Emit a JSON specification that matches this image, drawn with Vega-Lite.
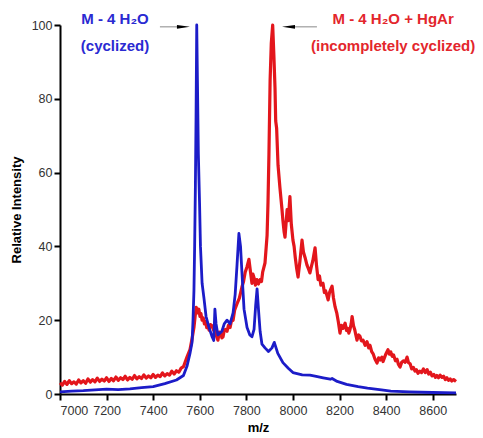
{
  "$schema": "https://vega.github.io/schema/vega-lite/v6.json",
  "width": 396,
  "height": 369,
  "autosize": {"type": "none"},
  "padding": {"left": 60, "top": 25, "right": 27, "bottom": 44},
  "background": "white",
  "config": {
    "view": {"stroke": null},
    "font": "Liberation Sans",
    "axis": {
      "domainColor": "black", "domainWidth": 2, "tickColor": "black", "tickWidth": 2, "tickSize": 6,
      "labelFontSize": 12.5, "labelColor": "#333333", "labelFont": "Liberation Sans",
      "titleFontSize": 13, "titleFontWeight": "bold", "titleColor": "black", "titleFont": "Liberation Sans",
      "grid": false
    }
  },
  "datasets": {
    "blue": [
      {"mz": 7000, "v": 0.6}, {"mz": 7050, "v": 0.8}, {"mz": 7100, "v": 0.9}, {"mz": 7150, "v": 1.1},
      {"mz": 7200, "v": 1.3}, {"mz": 7250, "v": 1.2}, {"mz": 7300, "v": 1.4}, {"mz": 7350, "v": 1.7},
      {"mz": 7400, "v": 2.0}, {"mz": 7450, "v": 2.8}, {"mz": 7500, "v": 3.8}, {"mz": 7530, "v": 5},
      {"mz": 7545, "v": 7.5}, {"mz": 7558, "v": 11}, {"mz": 7567, "v": 14}, {"mz": 7571, "v": 20},
      {"mz": 7575, "v": 28}, {"mz": 7578, "v": 40}, {"mz": 7581, "v": 55}, {"mz": 7584, "v": 75},
      {"mz": 7587, "v": 100}, {"mz": 7590, "v": 85}, {"mz": 7594, "v": 65}, {"mz": 7599, "v": 52},
      {"mz": 7603, "v": 40}, {"mz": 7610, "v": 30}, {"mz": 7618, "v": 26}, {"mz": 7627, "v": 21},
      {"mz": 7640, "v": 18}, {"mz": 7653, "v": 15.5}, {"mz": 7660, "v": 14.5}, {"mz": 7665, "v": 23},
      {"mz": 7670, "v": 19}, {"mz": 7678, "v": 16}, {"mz": 7695, "v": 17}, {"mz": 7705, "v": 19},
      {"mz": 7717, "v": 20}, {"mz": 7730, "v": 19}, {"mz": 7743, "v": 22}, {"mz": 7752, "v": 27},
      {"mz": 7760, "v": 35}, {"mz": 7768, "v": 43.5}, {"mz": 7775, "v": 40}, {"mz": 7781, "v": 33},
      {"mz": 7790, "v": 23}, {"mz": 7803, "v": 18}, {"mz": 7815, "v": 16}, {"mz": 7824, "v": 15.5},
      {"mz": 7833, "v": 17.5}, {"mz": 7840, "v": 24}, {"mz": 7846, "v": 28.5}, {"mz": 7852, "v": 23},
      {"mz": 7859, "v": 17}, {"mz": 7867, "v": 13.5}, {"mz": 7880, "v": 12.5}, {"mz": 7895, "v": 11.5},
      {"mz": 7910, "v": 12.5}, {"mz": 7920, "v": 14}, {"mz": 7935, "v": 11}, {"mz": 7957, "v": 8.5},
      {"mz": 7980, "v": 7}, {"mz": 8000, "v": 5.8}, {"mz": 8040, "v": 5.2}, {"mz": 8073, "v": 5.1},
      {"mz": 8100, "v": 4.8}, {"mz": 8130, "v": 4.4}, {"mz": 8160, "v": 4}, {"mz": 8168, "v": 4.2},
      {"mz": 8190, "v": 3.4}, {"mz": 8230, "v": 2.6}, {"mz": 8280, "v": 2}, {"mz": 8320, "v": 1.6},
      {"mz": 8380, "v": 1.1}, {"mz": 8420, "v": 0.8}, {"mz": 8500, "v": 0.6}, {"mz": 8600, "v": 0.4},
      {"mz": 8700, "v": 0.3}
    ],
    "red": [
      {"mz": 7000, "v": 3.0}, {"mz": 7010, "v": 2.4}, {"mz": 7020, "v": 3.4}, {"mz": 7030, "v": 2.6},
      {"mz": 7040, "v": 3.6}, {"mz": 7050, "v": 2.8}, {"mz": 7060, "v": 3.3}, {"mz": 7070, "v": 2.7},
      {"mz": 7080, "v": 3.8}, {"mz": 7090, "v": 3.0}, {"mz": 7100, "v": 3.6}, {"mz": 7110, "v": 2.9},
      {"mz": 7120, "v": 4.1}, {"mz": 7130, "v": 3.2}, {"mz": 7140, "v": 3.9}, {"mz": 7150, "v": 3.3},
      {"mz": 7160, "v": 4.3}, {"mz": 7170, "v": 3.4}, {"mz": 7180, "v": 4.0}, {"mz": 7190, "v": 3.5},
      {"mz": 7200, "v": 4.4}, {"mz": 7210, "v": 3.4}, {"mz": 7220, "v": 4.2}, {"mz": 7230, "v": 3.6},
      {"mz": 7240, "v": 4.6}, {"mz": 7250, "v": 3.7}, {"mz": 7260, "v": 4.4}, {"mz": 7270, "v": 3.9},
      {"mz": 7280, "v": 4.8}, {"mz": 7290, "v": 3.8}, {"mz": 7300, "v": 4.5}, {"mz": 7310, "v": 4.0},
      {"mz": 7320, "v": 5.0}, {"mz": 7330, "v": 4.1}, {"mz": 7340, "v": 4.7}, {"mz": 7350, "v": 4.2},
      {"mz": 7360, "v": 5.2}, {"mz": 7370, "v": 4.3}, {"mz": 7380, "v": 4.9}, {"mz": 7390, "v": 4.4},
      {"mz": 7400, "v": 5.3}, {"mz": 7410, "v": 4.5}, {"mz": 7420, "v": 5.1}, {"mz": 7430, "v": 4.7},
      {"mz": 7440, "v": 5.7}, {"mz": 7450, "v": 4.9}, {"mz": 7460, "v": 5.5}, {"mz": 7470, "v": 5.1},
      {"mz": 7480, "v": 6.2}, {"mz": 7490, "v": 5.4}, {"mz": 7500, "v": 6.3}, {"mz": 7510, "v": 5.9},
      {"mz": 7520, "v": 7.0}, {"mz": 7530, "v": 7.4},
      {"mz": 7545, "v": 10}, {"mz": 7558, "v": 12}, {"mz": 7567, "v": 15}, {"mz": 7575, "v": 18},
      {"mz": 7580, "v": 21}, {"mz": 7585, "v": 23.5}, {"mz": 7590, "v": 22}, {"mz": 7596, "v": 23},
      {"mz": 7601, "v": 21}, {"mz": 7605, "v": 21.8}, {"mz": 7610, "v": 20}, {"mz": 7615, "v": 20.6},
      {"mz": 7620, "v": 19}, {"mz": 7625, "v": 19.6}, {"mz": 7630, "v": 18}, {"mz": 7635, "v": 18.6},
      {"mz": 7640, "v": 17.3}, {"mz": 7646, "v": 18.8}, {"mz": 7653, "v": 18.5}, {"mz": 7660, "v": 17.2},
      {"mz": 7665, "v": 18}, {"mz": 7670, "v": 16}, {"mz": 7678, "v": 14.6}, {"mz": 7684, "v": 16.8},
      {"mz": 7690, "v": 16.5}, {"mz": 7695, "v": 15.2}, {"mz": 7700, "v": 15.5}, {"mz": 7705, "v": 17.2},
      {"mz": 7710, "v": 17.5}, {"mz": 7717, "v": 17}, {"mz": 7723, "v": 18.6}, {"mz": 7730, "v": 18},
      {"mz": 7736, "v": 19.8}, {"mz": 7743, "v": 20}, {"mz": 7750, "v": 22.8}, {"mz": 7760, "v": 24.5},
      {"mz": 7770, "v": 26}, {"mz": 7781, "v": 29}, {"mz": 7788, "v": 30.5}, {"mz": 7795, "v": 33},
      {"mz": 7803, "v": 34.5}, {"mz": 7811, "v": 36.5}, {"mz": 7818, "v": 33}, {"mz": 7824, "v": 30},
      {"mz": 7828, "v": 32.5}, {"mz": 7833, "v": 31.5}, {"mz": 7839, "v": 29.5}, {"mz": 7845, "v": 31},
      {"mz": 7852, "v": 29.8}, {"mz": 7859, "v": 31}, {"mz": 7865, "v": 30.5}, {"mz": 7870, "v": 33},
      {"mz": 7880, "v": 35.5}, {"mz": 7889, "v": 43},
      {"mz": 7893, "v": 52}, {"mz": 7897, "v": 65}, {"mz": 7902, "v": 85}, {"mz": 7907, "v": 95},
      {"mz": 7913, "v": 100}, {"mz": 7918, "v": 92}, {"mz": 7923, "v": 83}, {"mz": 7926, "v": 74},
      {"mz": 7930, "v": 72}, {"mz": 7936, "v": 62}, {"mz": 7944, "v": 56}, {"mz": 7953, "v": 50},
      {"mz": 7957, "v": 47}, {"mz": 7962, "v": 44}, {"mz": 7966, "v": 42.5}, {"mz": 7975, "v": 50},
      {"mz": 7980, "v": 47}, {"mz": 7987, "v": 53.5}, {"mz": 7993, "v": 46}, {"mz": 8000, "v": 41.7},
      {"mz": 8005, "v": 40}, {"mz": 8010, "v": 37}, {"mz": 8016, "v": 34}, {"mz": 8022, "v": 31.7},
      {"mz": 8030, "v": 36}, {"mz": 8039, "v": 41.7}, {"mz": 8045, "v": 38.5}, {"mz": 8052, "v": 37},
      {"mz": 8060, "v": 35}, {"mz": 8066, "v": 34}, {"mz": 8073, "v": 32.8}, {"mz": 8079, "v": 34.5},
      {"mz": 8085, "v": 36}, {"mz": 8095, "v": 39.6}, {"mz": 8101, "v": 35}, {"mz": 8108, "v": 31},
      {"mz": 8114, "v": 32}, {"mz": 8120, "v": 29.5}, {"mz": 8129, "v": 30}, {"mz": 8135, "v": 27.5},
      {"mz": 8140, "v": 28}, {"mz": 8151, "v": 25.5}, {"mz": 8157, "v": 27.5}, {"mz": 8163, "v": 28.5},
      {"mz": 8168, "v": 29.2}, {"mz": 8174, "v": 26}, {"mz": 8181, "v": 23.6}, {"mz": 8188, "v": 22},
      {"mz": 8195, "v": 19.5}, {"mz": 8202, "v": 16.5}, {"mz": 8208, "v": 18.6}, {"mz": 8215, "v": 17.8},
      {"mz": 8224, "v": 19.2}, {"mz": 8230, "v": 17.2}, {"mz": 8235, "v": 17.8}, {"mz": 8240, "v": 16.5},
      {"mz": 8245, "v": 17.5}, {"mz": 8250, "v": 19}, {"mz": 8254, "v": 21}, {"mz": 8260, "v": 18.5},
      {"mz": 8265, "v": 17.5}, {"mz": 8270, "v": 16}, {"mz": 8275, "v": 14.6}, {"mz": 8282, "v": 16},
      {"mz": 8288, "v": 15.6}, {"mz": 8294, "v": 14.4}, {"mz": 8301, "v": 14.6}, {"mz": 8310, "v": 13.2},
      {"mz": 8318, "v": 14.2}, {"mz": 8325, "v": 12.5}, {"mz": 8331, "v": 13.2}, {"mz": 8338, "v": 11.5},
      {"mz": 8345, "v": 10.8}, {"mz": 8352, "v": 9.5}, {"mz": 8361, "v": 8.4}, {"mz": 8368, "v": 9.8},
      {"mz": 8375, "v": 9.2}, {"mz": 8382, "v": 10}, {"mz": 8387, "v": 8.8}, {"mz": 8395, "v": 10.2},
      {"mz": 8400, "v": 11}, {"mz": 8408, "v": 12}, {"mz": 8414, "v": 10.8}, {"mz": 8420, "v": 11.4},
      {"mz": 8426, "v": 10.2}, {"mz": 8432, "v": 10.6}, {"mz": 8440, "v": 9.0}, {"mz": 8447, "v": 9.4},
      {"mz": 8453, "v": 8}, {"mz": 8460, "v": 7.3}, {"mz": 8467, "v": 8.6}, {"mz": 8475, "v": 9},
      {"mz": 8482, "v": 8.6}, {"mz": 8490, "v": 10}, {"mz": 8496, "v": 8.5}, {"mz": 8503, "v": 8.2},
      {"mz": 8510, "v": 6.8}, {"mz": 8517, "v": 7.2}, {"mz": 8524, "v": 6.2}, {"mz": 8530, "v": 6.6},
      {"mz": 8537, "v": 5.6}, {"mz": 8545, "v": 6.2}, {"mz": 8552, "v": 5.8}, {"mz": 8560, "v": 6.8},
      {"mz": 8568, "v": 5.8}, {"mz": 8576, "v": 6.6}, {"mz": 8583, "v": 5.4}, {"mz": 8590, "v": 5.9},
      {"mz": 8597, "v": 4.9}, {"mz": 8605, "v": 5.3}, {"mz": 8612, "v": 4.5}, {"mz": 8618, "v": 5.0},
      {"mz": 8625, "v": 4.4}, {"mz": 8632, "v": 5.1}, {"mz": 8640, "v": 4.5}, {"mz": 8647, "v": 4.8},
      {"mz": 8654, "v": 3.9}, {"mz": 8661, "v": 4.4}, {"mz": 8668, "v": 3.7}, {"mz": 8675, "v": 4.1},
      {"mz": 8682, "v": 3.5}, {"mz": 8690, "v": 3.9}, {"mz": 8700, "v": 3.4}
    ],
    "labels": [
      {"mz": 7236, "v": 101.6, "text": "M - 4 H₂O", "series": "blue"},
      {"mz": 7236, "v": 94.3, "text": "(cyclized)", "series": "blue"},
      {"mz": 8430, "v": 101.6, "text": "M - 4 H₂O + HgAr", "series": "red"},
      {"mz": 8430, "v": 94.3, "text": "(incompletely cyclized)", "series": "red"}
    ],
    "arrowLines": [
      {"x1": 7429, "x2": 7520, "v": 99.5},
      {"x1": 8000, "x2": 8103, "v": 99.5}
    ],
    "arrowHeads": [
      {"mz": 7530, "v": 99.5, "dir": "right"},
      {"mz": 7981, "v": 99.5, "dir": "left"}
    ]
  },
  "layer": [
    {
      "data": {"name": "red"},
      "mark": {"type": "line", "color": "#e3161c", "strokeWidth": 3.2, "strokeJoin": "round"},
      "encoding": {
        "x": {"field": "mz", "type": "quantitative", "scale": {"domain": [7000, 8700], "nice": false, "zero": false},
              "axis": {"values": [7000, 7200, 7400, 7600, 7800, 8000, 8200, 8400, 8600], "title": "m/z", "labelPadding": 4, "titlePadding": 5, "format": "d"}},
        "y": {"field": "v", "type": "quantitative", "scale": {"domain": [0, 100], "nice": false},
              "axis": {"values": [0, 20, 40, 60, 80, 100], "title": "Relative Intensity", "labelPadding": 2, "titlePadding": 8}}
      }
    },
    {
      "data": {"name": "blue"},
      "mark": {"type": "line", "color": "#1c1cc8", "strokeWidth": 2.8, "strokeJoin": "round"},
      "encoding": {
        "x": {"field": "mz", "type": "quantitative"},
        "y": {"field": "v", "type": "quantitative"}
      }
    },
    {
      "data": {"name": "arrowLines"},
      "mark": {"type": "rule", "color": "#888888", "strokeWidth": 1},
      "encoding": {
        "x": {"field": "x1", "type": "quantitative"},
        "x2": {"field": "x2"},
        "y": {"field": "v", "type": "quantitative"}
      }
    },
    {
      "data": {"name": "arrowHeads"},
      "mark": {"type": "point", "filled": true, "color": "black", "opacity": 1, "size": 169},
      "encoding": {
        "x": {"field": "mz", "type": "quantitative"},
        "y": {"field": "v", "type": "quantitative"},
        "shape": {"field": "dir", "type": "nominal", "legend": null,
                  "scale": {"domain": ["right", "left"], "range": ["M1,0L-1,-0.3L-1,0.3Z", "M-1,0L1,-0.3L1,0.3Z"]}}
      }
    },
    {
      "data": {"name": "labels"},
      "mark": {"type": "text", "fontSize": 15, "fontWeight": "bold", "font": "Liberation Sans", "align": "center", "baseline": "middle"},
      "encoding": {
        "x": {"field": "mz", "type": "quantitative"},
        "y": {"field": "v", "type": "quantitative"},
        "text": {"field": "text"},
        "color": {"field": "series", "type": "nominal", "legend": null,
                  "scale": {"domain": ["blue", "red"], "range": ["#2a2ad2", "#e3262c"]}}
      }
    }
  ]
}
